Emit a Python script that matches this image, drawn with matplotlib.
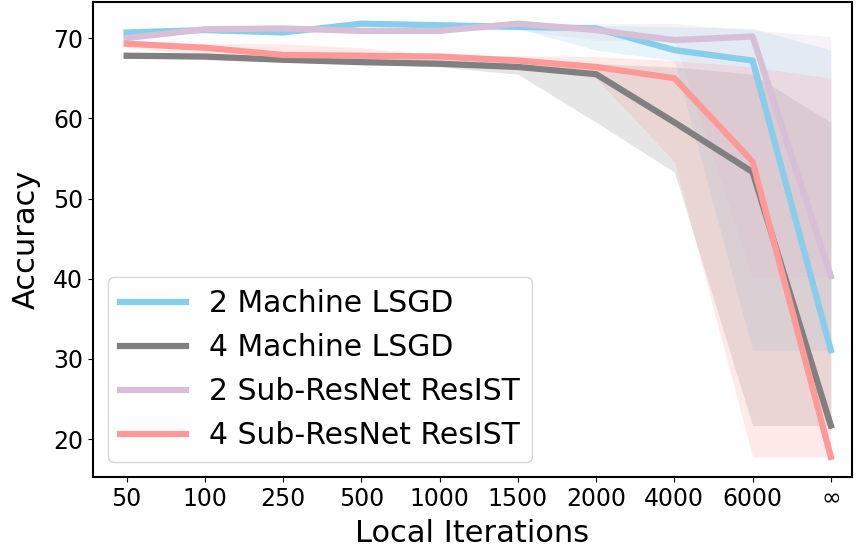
import matplotlib
matplotlib.use('Agg')
import matplotlib.pyplot as plt
import numpy as np

# x categories (local iterations)
iters = ['50', '100', '250', '500', '1000', '1500', '2000', '4000', '6000', '\u221e']

# mean accuracy per setting
lsgd2 = [70.7, 71.0, 70.7, 71.8, 71.6, 71.4, 71.2, 68.5, 67.2, 31.1]
lsgd4 = [67.8, 67.7, 67.3, 67.0, 66.8, 66.4, 65.5, 59.5, 53.3, 21.7]
resist2 = [70.0, 71.1, 71.2, 70.9, 70.9, 71.8, 71.0, 69.75, 70.2, 40.3]
resist4 = [69.3, 68.8, 67.9, 67.8, 67.7, 67.2, 66.4, 65.0, 54.6, 17.8]

# shaded band limits
lsgd2_lo = [70.7, 70.7, 70.7, 71.4, 71.4, 71.2, 68.5, 67.2, 31.1, 31.1]
lsgd2_hi = [70.7, 71.0, 71.0, 71.8, 71.8, 71.8, 71.6, 71.4, 71.2, 68.5]
lsgd4_lo = [67.7, 67.3, 67.0, 66.8, 66.4, 65.5, 59.5, 53.3, 21.7, 21.7]
lsgd4_hi = [67.8, 67.8, 67.8, 67.7, 67.3, 67.0, 66.8, 66.4, 65.5, 59.5]
resist2_lo = [70.0, 71.1, 70.9, 70.9, 70.9, 71.0, 69.75, 69.75, 40.3, 40.3]
resist2_hi = [70.0, 71.1, 71.2, 71.2, 71.2, 71.8, 71.8, 71.8, 71.0, 70.2]
resist4_lo = [68.8, 67.9, 67.8, 67.7, 67.2, 66.4, 65.0, 54.6, 17.8, 17.8]
resist4_hi = [69.3, 69.3, 69.3, 68.8, 67.9, 67.8, 67.7, 67.2, 66.4, 65.0]

fig = plt.figure(figsize=(8.56, 5.52), dpi=100)
ax = fig.add_axes([0.1086, 0.136, 0.8867, 0.8604])

x = np.arange(len(iters))

series = [
    ('2 Machine LSGD', lsgd2, lsgd2_lo, lsgd2_hi, '#87CEEB'),
    ('4 Machine LSGD', lsgd4, lsgd4_lo, lsgd4_hi, 'gray'),
    ('2 Sub-ResNet ResIST', resist2, resist2_lo, resist2_hi, 'thistle'),
    ('4 Sub-ResNet ResIST', resist4, resist4_lo, resist4_hi, '#FF9999'),
]

for label, mean, lo, hi, c in series:
    ax.plot(x, mean, color=c, lw=4.5, label=label)
    ax.fill_between(x, lo, hi, color=c, alpha=0.2, lw=0)

ax.set_xticks(x)
ax.set_xticklabels(iters, fontsize=17)
ax.tick_params(axis='y', labelsize=17)
ax.set_yticks([20, 30, 40, 50, 60, 70])
ax.set_xlim(-0.43, 9.27)
ax.set_ylim(15.3, 74.5)
ax.set_xlabel('Local Iterations', fontsize=22, labelpad=6)
ax.set_ylabel('Accuracy', fontsize=22, labelpad=9)
for s in ax.spines.values():
    s.set_linewidth(1.5)

ax.legend(loc='lower left', fontsize=21.5, handlelength=2.2, borderaxespad=0.5)

fig.savefig('out.png', dpi=100)
